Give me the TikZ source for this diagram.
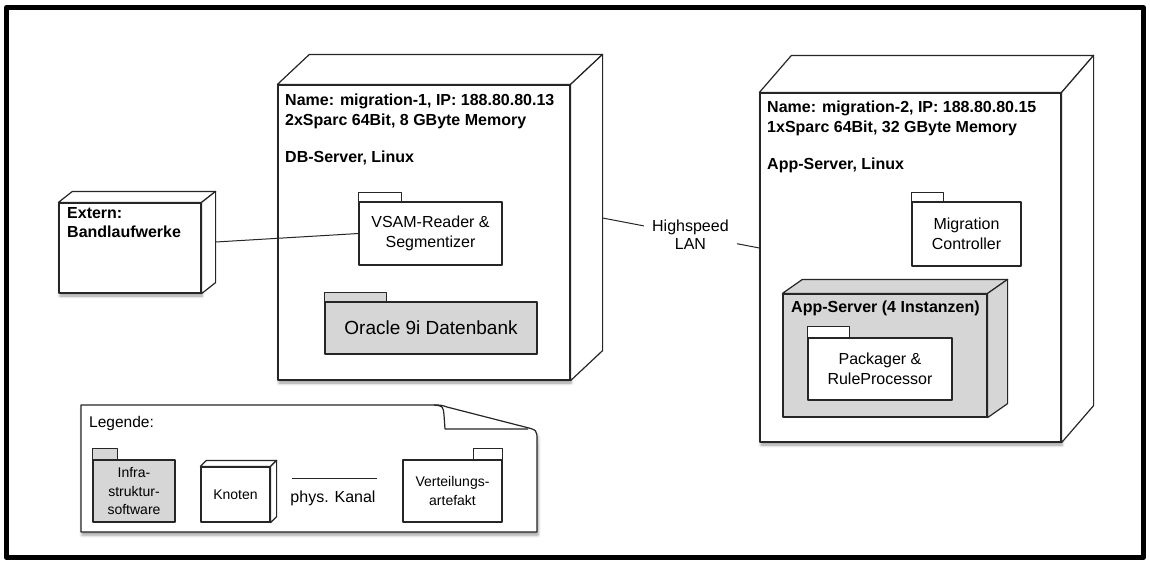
\documentclass[tikz,border=0pt]{standalone}
\usepackage{fontspec}
\setmainfont{Liberation Sans}
\usetikzlibrary{shadows.blur}
\definecolor{grau}{HTML}{D6D6D6}
\definecolor{linie}{HTML}{262626}
% front face as node, depth dx dy, fill
\newcommand{\quader}[4]{%
  \draw[kante, fill=#4] (#1.north west) -- ++(#2,-#3) -- ([shift={(#2,-#3)}]#1.north east) -- (#1.north east) -- cycle;
  \draw[kante, fill=#4] (#1.north east) -- ([shift={(#2,-#3)}]#1.north east) -- ([shift={(#2,-#3)}]#1.south east) -- (#1.south east) -- cycle;}
% tab of a package
\newcommand{\reiter}[4]{\draw[kante, fill=#4] #1 rectangle ++(#2,-#3);}

\begin{document}
\begin{tikzpicture}[x=1pt, y=-1pt, line join=round,
  kante/.style={draw=linie, line width=1.2pt},
  kabel/.style={draw=linie, line width=1pt},
  schatten/.style={blur shadow={shadow xshift=1pt, shadow yshift=-3pt, shadow blur radius=3pt, shadow opacity=40}},
  knoten/.style={kante, fill=white, inner sep=0pt, schatten},
  paket/.style={kante, fill=white, inner sep=0pt, align=center, font=\fontsize{16}{20}\selectfont},
  infra/.style={paket, fill=grau},
  titel/.style={inner sep=0pt, anchor=north west, align=left, font=\fontsize{16}{19.5}\selectfont\bfseries},
  klein/.style={font=\fontsize{14}{18.5}\selectfont, align=center}]

\useasboundingbox (0,0) rectangle (1150,565);
\draw[line width=5pt] (6.5,7.5) rectangle (1143.5,557.5);

% Knoten
\node[knoten, minimum width=292pt, minimum height=295pt] (db) at (424,232.5) {};
\quader{db}{32}{30}{white}
\node[knoten, minimum width=301pt, minimum height=349pt] (app) at (910.5,267.5) {};
\quader{app}{32}{37}{white}
\node[knoten, minimum width=142pt, minimum height=90pt] (ext) at (130,248) {};
\quader{ext}{14}{11}{white}
\node[kante, fill=grau, inner sep=0pt, minimum width=204pt, minimum height=123pt] (inst) at (885,355.5) {};
\quader{inst}{20}{14}{grau}

\node[titel] (dbtext) at (285,94) {Name: migration-1, IP: 188.80.80.13\\2xSparc 64Bit, 8 GByte Memory\\[18pt]DB-Server, Linux};
\node[titel] (apptext) at (767,101) {Name: migration-2, IP: 188.80.80.15\\1xSparc 64Bit, 32 GByte Memory\\[18pt]App-Server, Linux};
\node[titel] (exttext) at (67,207) {Extern:\\Bandlaufwerke};
\node[titel, anchor=west] (insttext) at (791,308) {App-Server (4 Instanzen)};

% Pakete
\node[paket, minimum width=143pt, minimum height=63pt] (vsam) at (430.5,233.5) {VSAM-Reader \&\\Segmentizer};
\reiter{(vsam.north west)}{43}{9}{white}
\node[infra, minimum width=212pt, minimum height=52pt, font=\fontsize{19}{23}\selectfont] (ora) at (431,328) {Oracle 9i Datenbank};
\reiter{(ora.north west)}{62}{9}{grau}
\node[paket, minimum width=109pt, minimum height=64pt] (mig) at (966.5,234) {Migration\\Controller};
\reiter{(mig.north west)}{32}{9}{white}
\node[paket, minimum width=144pt, minimum height=62pt] (pack) at (880,369) {Packager \&\\RuleProcessor};
\reiter{(pack.north west)}{42}{11}{white}

% Kanaele
\draw[kabel] ([xshift=14pt,yshift=6pt]ext.east) -- (vsam.west);
\draw[kabel] ([xshift=32pt,yshift=14.5pt]db.east) -- node[pos=0.56, fill=white, inner xsep=8pt, inner ysep=2pt, align=center, font=\fontsize{16}{18}\selectfont] (lan) {Highspeed\\LAN} ([yshift=19.5pt]app.west);

% Legende
\draw[kante, fill=white, schatten] (81,405) -- (434,405) .. controls (441,405) .. (447,407) -- (525,427) .. controls (537,430) .. (537,441) -- (537,532) -- (81,532) -- cycle;
\draw[kante] (434,405) .. controls (443,406) .. (444,415) -- (445,429) -- (528,429);
\node[anchor=west, inner sep=0pt, font=\fontsize{15.5}{18}\selectfont] (leg) at (89,423) {Legende:};
\node[infra, klein, minimum width=82pt, minimum height=62pt] (l1) at (134,491) {Infra-\\struktur-\\software};
\reiter{(l1.north west)}{25}{11}{grau}
\node[kante, fill=white, klein, inner sep=0pt, minimum width=69pt, minimum height=55pt] (l2) at (235.5,494.5) {Knoten};
\quader{l2}{6}{6}{white}
\coordinate (k1) at (292,478);
\coordinate (k2) at (377,478);
\draw[kabel] (k1) -- (k2);
\node[font=\fontsize{16}{19}\selectfont] (l3) at (333,498) {phys. Kanal};
\node[paket, klein, minimum width=99pt, minimum height=62pt] (l4) at (452.5,491) {Verteilungs-\\artefakt};
\reiter{([xshift=-29pt]l4.north east)}{29}{11}{white}
\end{tikzpicture}
\end{document}
